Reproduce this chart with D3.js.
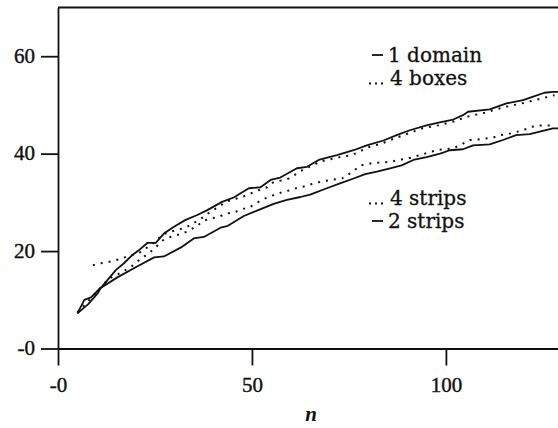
<!DOCTYPE html>
<html>
<head>
<meta charset="utf-8">
<script src="https://cdn.jsdelivr.net/npm/d3@7"></script>
<style>
  body { margin: 0; background: #fff; }
  svg { display: block; }
</style>
</head>
<body>
<svg id="plot"></svg>
<script>
// [n, value] pairs
const oneDomain = [[5,7.2],[7.8,9.1],[10.2,11.3],[11,12.4],[12.8,14.1],[14.9,16.1],[17,17.5],[19.2,19.2],[20.9,20.2],[23.1,21.7],[25.2,21.7],[27.3,23.6],[29.9,25.0],[32.9,26.4],[35.9,27.4],[38.5,28.4],[42.3,30.1],[45.3,31.0],[49.2,32.9],[52.2,33.1],[54.8,34.6],[57.3,35.1],[61.6,37.0],[64.2,37.3],[67.2,38.7],[71.9,39.7],[76.2,40.7],[79.6,41.7],[83.9,42.7],[87.3,43.8],[90.7,44.8],[95,45.8],[98.4,46.4],[101.9,47.0],[104.4,47.9],[105.7,48.6],[111.3,49.1],[115.6,50.3],[119.9,51.0],[122.5,51.7],[125.4,52.5],[127.6,52.7],[129,52.7]];
const twoStrips = [[5,7.2],[6.8,10.0],[8.5,10.5],[10.6,12.2],[15.3,14.6],[20.5,16.9],[24.8,18.7],[27.3,18.9],[31.6,20.7],[35,22.6],[37.6,22.9],[41.9,24.8],[43.6,25.1],[47.9,27.2],[51.3,28.3],[55.6,29.7],[59,30.5],[62.5,31.1],[65,31.6],[69.3,32.9],[72.7,33.9],[76.2,34.9],[79.2,35.8],[82.2,36.3],[85.6,37.0],[88.6,37.6],[91.6,38.7],[95,39.3],[98.5,40.0],[101,40.7],[104.4,40.9],[107,41.7],[111.3,41.9],[114.7,42.8],[118.1,43.8],[121.6,44.0],[124.2,44.5],[127.6,45.2],[129,45.2]];
const fourStrips = [[5,7.4],[8,9.9],[11,12.5],[13.2,14.4],[14.9,15.0],[17,15.9],[19.2,17.0],[21.3,18.4],[23.5,19.6],[25.2,20.8],[27,22.2],[29,22.9],[31.2,23.4],[33.3,24.0],[35.5,25.0],[37.6,26.2],[39.3,26.7],[41.5,27.0],[43.2,27.7],[45.3,27.9],[47.5,28.6],[49.6,29.1],[51.7,30.1],[53.9,31.0],[56,31.6],[58.2,32.2],[60,32.5],[62,33.1],[63.7,33.3],[65.9,33.9],[67.6,34.2],[70.2,34.6],[73.2,34.9],[75.8,36.2],[78,37.6],[81.3,38.1],[85.6,38.3],[87.7,38.7],[90.3,39.0],[92.4,39.5],[94.6,40.0],[96.3,40.4],[98,40.8],[99.7,40.9],[101.9,41.1],[104,41.9],[106.2,42.8],[108.3,42.9],[110,43.1],[112.2,43.3],[113.9,43.8],[116,44.0],[119.9,44.8],[122,45.5],[124.2,45.8],[126,45.8],[128,45.8]];
const fourBoxes = [[9,17.1],[11.1,17.5],[13.2,17.8],[15.3,18.2],[17.5,18.8],[19.2,19.2],[21.3,19.8],[23.5,21.0],[25.2,22.0],[26.9,23.4],[29,24.0],[31.2,24.4],[33.3,25.0],[35.5,26.0],[37.5,27.0],[39.3,28.1],[41.5,29.1],[43.2,30.1],[45.3,30.6],[47.5,31.1],[49.6,31.8],[51.7,32.5],[53.9,33.1],[55.6,34.2],[57.5,34.5],[59.5,34.9],[61.6,35.9],[63.7,37.0],[65.9,37.6],[67.6,38.4],[70,38.8],[72,39.2],[75.8,39.7],[80,41.3],[83.5,42.1],[87,43.2],[90.5,44.2],[94,45.2],[98,45.8],[102,46.6],[106,47.7],[110,48.4],[113,49.1],[116,49.7],[120,50.4],[123,51.0],[126,51.6],[128,52.0]];

const xTicks = [0, 50, 100];
const xTickLabels = ["-0", "50", "100"];
const yTicks = [0, 20, 40, 60];
const yTickLabels = ["-0", "20", "40", "60"];
const xTitle = "n";
const legendUpper = [["1 domain", "solid"], ["4 boxes", "dots"]];
const legendLower = [["4 strips", "dots"], ["2 strips", "solid"]];

const width = 558, height = 428;
const serif = "'Liberation Serif', 'Times New Roman', serif";
const legendFont = "'DejaVu Serif', serif";
const ink = "#111";

const svg = d3.select("#plot").attr("width", width).attr("height", height);

const x = d3.scaleLinear().domain([0, 128.9]).range([58, 558]);
const y = d3.scaleLinear().domain([0, 70]).range([348.5, 7.5]);

// axes
let yAxis = g => g
    .attr("transform", `translate(${x(0)},0)`)
    .call(d3.axisLeft(y).tickValues(yTicks).tickSize(17).tickSizeOuter(0).tickPadding(6)
        .tickFormat((d, i) => yTickLabels[i]))
    .call(g => g.selectAll("text").attr("dy", "0.3em"));

let xAxis = g => g
    .attr("transform", `translate(0,${y(0)})`)
    .call(d3.axisBottom(x).tickValues(xTicks).tickSize(17).tickSizeOuter(0).tickPadding(12)
        .tickFormat((d, i) => xTickLabels[i]));

[yAxis, xAxis].forEach(ax => {
    svg.append("g").call(ax)
        .attr("font-family", serif)
        .attr("font-size", 21)
        .call(g => g.selectAll("path, line").attr("stroke", ink).attr("stroke-width", 1.8))
        .call(g => g.selectAll("text").attr("fill", ink).attr("stroke", ink).attr("stroke-width", 0.4));
});

// top frame line
svg.append("line")
    .attr("x1", x(0)).attr("x2", x(128.9))
    .attr("y1", y(70)).attr("y2", y(70))
    .attr("stroke", ink).attr("stroke-width", 1.8);

// curves
let line = d3.line().x(d => x(d[0])).y(d => y(d[1]));

[oneDomain, twoStrips].forEach(s => {
    svg.append("path").datum(s)
        .attr("d", line)
        .attr("fill", "none")
        .attr("stroke", ink)
        .attr("stroke-width", 1.8)
        .attr("stroke-linejoin", "round");
});

[fourBoxes, fourStrips].forEach(s => {
    svg.append("path").datum(s)
        .attr("d", line)
        .attr("fill", "none")
        .attr("stroke", ink)
        .attr("stroke-width", 2)
        .attr("stroke-dasharray", "2 6");
});

// legends: a short sample mark, then the label
let legend = (items, x0, y0) => {
    let g = svg.append("g");
    items.forEach(([label, style], i) => {
        let by = y0 + i * 23;
        if (style === "solid") {
            g.append("line")
                .attr("x1", x0 + 1).attr("x2", x0 + 12)
                .attr("y1", by - 7).attr("y2", by - 7)
                .attr("stroke", ink).attr("stroke-width", 1.8);
        } else {
            g.selectAll(null).data([0, 1, 2]).join("rect")
                .attr("x", k => x0 - 2 + k * 6)
                .attr("y", by - 2.5)
                .attr("width", 2).attr("height", 2)
                .attr("fill", ink);
        }
        g.append("text")
            .attr("x", x0 + (style === "solid" ? 17 : 19))
            .attr("y", by)
            .attr("font-family", legendFont)
            .attr("font-size", 20)
            .attr("fill", ink)
            .attr("stroke", ink).attr("stroke-width", 0.3)
            .text(label);
    });
};
legend(legendUpper, 371, 62);
legend(legendLower, 371, 205);

// axis title
svg.append("text")
    .attr("x", 311).attr("y", 421)
    .attr("text-anchor", "middle")
    .attr("font-family", serif)
    .attr("font-style", "italic")
    .attr("font-weight", "bold")
    .attr("font-size", 21)
    .attr("fill", ink)
    .text(xTitle);
</script>
</body>
</html>
